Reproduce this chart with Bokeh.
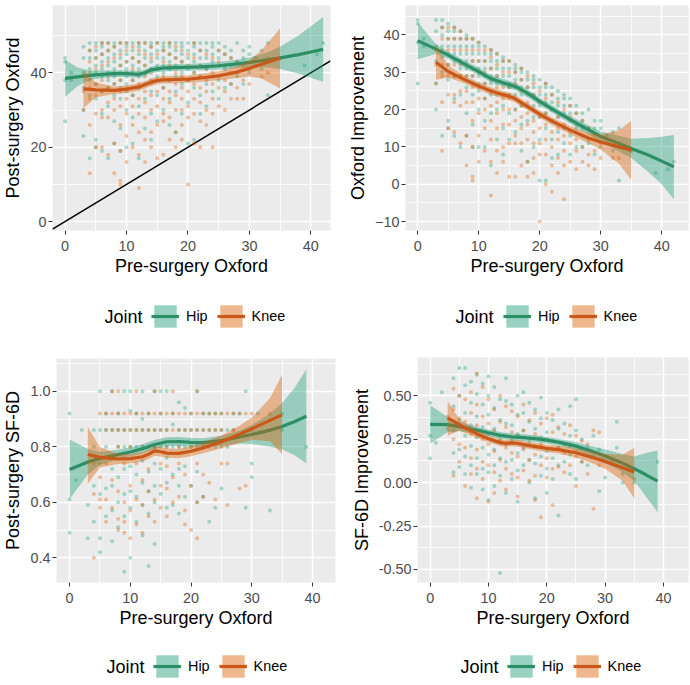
from bokeh.plotting import figure
from bokeh.layouts import column, row
from bokeh.models import (Range1d, FixedTicker, Legend, LegendItem, Label,
                          PrintfTickFormatter)
from bokeh.embed import file_html
from bokeh.resources import INLINE

# ---------------- data ----------------
X_TICKS = [0, 10, 20, 30, 40]
X_MINOR = [5, 15, 25, 35]
X_TITLE = "Pre-surgery Oxford"
GROUPS = ["Hip", "Knee"]
LEGEND_TITLE = "Joint"

# Panel 1 points: pre-surgery Oxford -> list of post-surgery Oxford
P1_HIP = {
    0: [27, 38, 43, 44], 1: [38, 40], 3: [23, 30, 36, 40, 44, 47],
    4: [17, 34, 38, 41, 44, 46, 48], 5: [20, 22, 33, 37, 40, 42, 44, 46, 48],
    6: [19, 29, 35, 39, 41, 43, 45, 47, 48], 7: [17, 31, 36, 38, 40, 42, 44, 46, 48],
    8: [21, 27, 34, 37, 39, 41, 43, 45, 47, 48], 9: [19, 25, 33, 36, 38, 40, 42, 44, 46, 48],
    10: [20, 30, 35, 37, 39, 41, 43, 45, 47, 48], 11: [21, 28, 34, 38, 40, 42, 44, 46, 48],
    12: [17, 31, 36, 39, 41, 43, 45, 47, 48], 13: [25, 33, 37, 40, 42, 44, 46, 48],
    14: [22, 29, 35, 38, 41, 43, 45, 47, 48], 15: [27, 34, 39, 41, 42, 44, 46, 48],
    16: [30, 36, 40, 42, 44, 46, 47, 48], 17: [26, 33, 38, 41, 43, 45, 47, 48],
    18: [24, 35, 39, 42, 44, 46, 48], 19: [29, 37, 40, 43, 45, 47, 48],
    20: [21, 32, 38, 41, 44, 46, 48], 21: [22, 36, 40, 43, 45, 47, 48],
    22: [29, 34, 39, 42, 44, 46, 48], 23: [31, 37, 41, 44, 46, 48],
    24: [35, 39, 43, 45, 47, 48], 25: [33, 38, 42, 44, 46, 48], 26: [36, 41, 45, 47],
    27: [37, 42, 44, 46], 28: [39, 43, 48], 29: [37, 44, 46], 30: [40, 45, 47],
    31: [42, 44], 32: [41, 46], 33: [34, 48], 35: [44], 39: [42], 41: [45], 42: [48],
}
P1_KNEE = {
    3: [30, 35, 39], 4: [13, 26, 33, 36, 40, 43, 46], 5: [20, 29, 34, 37, 41, 44, 47],
    6: [20, 28, 30, 35, 38, 42, 45, 48], 7: [18, 28, 32, 36, 39, 43, 46, 48],
    8: [13, 21, 30, 33, 37, 40, 44, 47], 9: [10, 11, 19, 26, 31, 35, 38, 42, 45, 48],
    10: [16, 23, 29, 33, 36, 40, 43, 46, 48], 11: [20, 26, 31, 34, 38, 41, 44, 47],
    12: [9, 18, 24, 29, 33, 37, 40, 43, 46, 48], 13: [16, 22, 28, 32, 35, 39, 42, 45, 48],
    14: [20, 24, 30, 34, 37, 40, 44, 47], 15: [17, 26, 31, 35, 38, 41, 45, 48],
    16: [18, 27, 29, 33, 36, 39, 43, 46], 17: [22, 28, 32, 35, 38, 42, 45, 48],
    18: [20, 24, 30, 34, 37, 40, 44, 47], 19: [22, 26, 30, 33, 36, 39, 43, 46],
    20: [10, 28, 31, 35, 38, 42, 45], 21: [21, 29, 33, 37, 40, 44, 48],
    22: [20, 27, 32, 36, 39, 42, 46], 23: [26, 30, 35, 38, 41, 45],
    24: [20, 29, 33, 37, 40, 44], 25: [31, 36, 39, 43, 46], 26: [30, 35, 38, 42, 45],
    27: [33, 37, 40, 44], 28: [33, 36, 40, 43], 29: [33, 38, 42], 30: [37, 41],
    32: [39], 33: [40, 44], 35: [44],
}

# Panel 3 points: pre-surgery Oxford -> post-surgery SF-6D
P3_HIP = {
    0: [0.92, 0.61, 0.49], 1: [0.68], 2: [0.86], 3: [0.59, 0.47],
    4: [0.86, 0.80, 0.66, 0.53], 5: [1.0, 0.86, 0.74, 0.63, 0.47, 0.42],
    6: [0.92, 0.86, 0.80, 0.65, 0.55], 7: [1.0, 0.86, 0.72, 0.66, 0.57, 0.46],
    8: [0.92, 0.86, 0.80, 0.69, 0.60, 0.51], 9: [1.0, 0.86, 0.80, 0.72, 0.63, 0.55, 0.35],
    10: [1.0, 0.93, 0.86, 0.80, 0.73, 0.64, 0.58, 0.40], 11: [0.92, 0.86, 0.80, 0.70, 0.62, 0.53],
    12: [1.0, 0.90, 0.86, 0.80, 0.75, 0.67, 0.59, 0.48], 13: [0.92, 0.86, 0.80, 0.71, 0.64, 0.56, 0.37],
    14: [1.0, 0.86, 0.80, 0.74, 0.66, 0.60, 0.45], 15: [1.0, 0.92, 0.86, 0.80, 0.72, 0.63],
    16: [1.0, 0.86, 0.80, 0.76, 0.67, 0.58], 17: [0.92, 0.88, 0.80, 0.70, 0.59],
    18: [0.96, 0.86, 0.80, 0.72, 0.66, 0.56], 19: [0.94, 0.86, 0.80, 0.73, 0.62],
    20: [0.92, 0.86, 0.80, 0.66], 21: [1.0, 0.86, 0.80, 0.71, 0.60], 22: [0.92, 0.86, 0.80, 0.62],
    23: [0.92, 0.86, 0.80, 0.53], 24: [0.92, 0.86, 0.80, 0.58], 25: [0.92, 0.86, 0.80, 0.65],
    26: [0.86, 0.80], 27: [0.92, 0.86], 28: [0.92], 29: [1.0, 0.58], 30: [0.86, 0.74, 0.69],
    31: [0.92], 33: [0.57], 35: [0.86, 0.92], 39: [0.80],
}
P3_KNEE = {
    4: [0.40, 0.63, 0.74], 5: [0.92, 0.58, 0.61, 0.69], 6: [0.92, 0.86, 0.74, 0.61, 0.53],
    7: [1.0, 0.92, 0.86, 0.68, 0.58], 8: [1.0, 0.92, 0.86, 0.80, 0.64, 0.54, 0.50],
    9: [0.92, 0.86, 0.74, 0.60, 0.53, 0.49], 10: [0.92, 0.86, 0.80, 0.66, 0.57, 0.47],
    11: [1.0, 0.92, 0.86, 0.74, 0.61, 0.52], 12: [0.92, 0.86, 0.80, 0.68, 0.59, 0.49],
    13: [0.92, 0.86, 0.72, 0.64, 0.55], 14: [1.0, 0.92, 0.86, 0.80, 0.61, 0.53],
    15: [0.92, 0.86, 0.74, 0.66, 0.58], 16: [0.92, 0.86, 0.80, 0.73, 0.65, 0.55],
    17: [1.0, 0.92, 0.86, 0.69, 0.60], 18: [0.92, 0.86, 0.80, 0.74, 0.62],
    19: [0.92, 0.86, 0.70, 0.57, 0.52], 20: [0.92, 0.86, 0.80, 0.66, 0.50],
    21: [1.0, 0.92, 0.86, 0.74, 0.60, 0.47], 22: [0.92, 0.86, 0.70, 0.62],
    23: [0.92, 0.86, 0.67], 24: [0.92, 0.86, 0.61], 25: [0.92, 0.86, 0.74],
    26: [0.92, 0.74, 0.59], 27: [0.92, 0.86], 28: [0.92, 0.65], 29: [0.92, 0.66],
    30: [0.92], 33: [0.92],
}

# Panel 4 points: pre-surgery Oxford -> SF-6D improvement
P4_HIP = {
    0: [0.46, 0.27, 0.14], 1: [0.23], 2: [0.52], 4: [0.60, 0.44, 0.30, 0.17, 0.06],
    5: [0.66, 0.50, 0.36, 0.19, 0.09], 6: [0.66, 0.56, 0.40, 0.27, 0.15, 0.05],
    7: [0.58, 0.46, 0.33, 0.21, 0.10, -0.03], 8: [0.62, 0.51, 0.38, 0.26, 0.14, 0.05],
    9: [0.57, 0.45, 0.32, 0.20, 0.08, -0.04], 10: [0.61, 0.50, 0.39, 0.28, 0.16, 0.06, -0.10],
    11: [0.55, 0.43, 0.31, 0.19, 0.10, -0.02], 12: [0.48, 0.36, 0.25, 0.14, 0.04, -0.52],
    13: [0.60, 0.47, 0.34, 0.22, 0.12, -0.06], 14: [0.45, 0.33, 0.24, 0.13, 0.02],
    15: [0.50, 0.39, 0.28, 0.17, 0.07, -0.11], 16: [0.52, 0.40, 0.30, 0.20, 0.10],
    17: [0.46, 0.35, 0.23, 0.13, 0.0], 18: [0.42, 0.31, 0.21, 0.11, -0.09],
    19: [0.49, 0.37, 0.26, 0.15, 0.04], 20: [0.40, 0.29, 0.18, 0.08, -0.06],
    21: [0.36, 0.24, 0.14, 0.02], 22: [0.42, 0.31, 0.20, 0.10, -0.19], 23: [0.34, 0.22, 0.12],
    24: [0.44, 0.27, 0.16, 0.05], 25: [0.48, 0.30, 0.18, 0.02], 26: [0.25, 0.12],
    27: [0.20, 0.10], 28: [0.27, 0.15], 29: [0.19, -0.05], 30: [0.12, 0.03],
    32: [0.35, 0.20], 33: [0.0, 0.05], 35: [0.0], 39: [0.12],
}
P4_KNEE = {
    3: [0.38, 0.31], 4: [0.54, 0.42, 0.25, 0.04], 5: [0.50, 0.37, 0.22, 0.12],
    6: [0.48, 0.35, 0.20, -0.02], 7: [0.52, 0.40, 0.28, 0.14, 0.05],
    8: [0.63, 0.45, 0.33, 0.19, 0.08, -0.09], 9: [0.55, 0.38, 0.25, 0.12, 0.02],
    10: [0.48, 0.34, 0.22, 0.10, -0.11], 11: [0.42, 0.30, 0.18, 0.06, -0.06],
    12: [0.50, 0.35, 0.24, 0.13, 0.01], 13: [0.44, 0.32, 0.20, 0.08, -0.04],
    14: [0.41, 0.29, 0.17, 0.05], 15: [0.38, 0.27, 0.15, 0.03, -0.08],
    16: [0.45, 0.30, 0.19, 0.07], 17: [0.36, 0.25, 0.13, 0.01],
    18: [0.40, 0.28, 0.16, 0.04, -0.10], 19: [0.34, 0.22, 0.10, -0.20],
    20: [0.37, 0.25, 0.14, 0.03], 21: [0.39, 0.29, 0.19, 0.08, -0.13],
    22: [0.32, 0.20, 0.09], 23: [0.28, 0.17, 0.06], 24: [0.33, 0.21, 0.10],
    25: [0.27, 0.15, -0.02], 26: [0.24, 0.12], 27: [0.22, 0.05], 28: [0.30, -0.15],
    29: [0.29, 0.10], 31: [0.12], 35: [0.02],
}

# Smoothed fits (line, lower, upper)
S1_HIP_X = [0, 2, 4, 6, 8, 10, 12, 13, 14, 16, 18, 20, 22, 25, 28, 30, 33, 35, 38, 40, 42]
S1_HIP_Y = [38.5, 38.9, 39.3, 39.6, 39.8, 39.8, 39.6, 40.0, 40.8, 41.3, 41.4, 41.5, 41.6, 41.9, 42.4, 42.8, 43.5, 44.0, 44.9, 45.6, 46.3]
S1_HIP_LO = [33.5, 36.4, 38.0, 38.6, 38.9, 38.9, 38.7, 39.1, 39.9, 40.4, 40.5, 40.6, 40.7, 40.9, 41.3, 41.5, 41.5, 41.0, 39.8, 38.7, 37.6]
S1_HIP_HI = [43.5, 41.4, 40.6, 40.6, 40.7, 40.7, 40.5, 40.9, 41.7, 42.2, 42.3, 42.4, 42.5, 42.9, 43.5, 44.1, 45.5, 47.0, 50.0, 52.5, 55.0]
S1_KNEE_X = [3, 5, 8, 10, 12, 13, 14, 15, 16, 18, 20, 22, 25, 28, 30, 32, 35]
S1_KNEE_Y = [35.7, 35.4, 35.3, 35.6, 36.2, 36.8, 37.5, 37.9, 38.1, 38.2, 38.3, 38.6, 39.2, 40.2, 41.2, 42.3, 44.0]
S1_KNEE_LO = [30.5, 33.4, 34.3, 34.6, 35.2, 35.8, 36.5, 36.9, 37.1, 37.2, 37.3, 37.5, 38.0, 38.6, 39.0, 38.5, 35.8]
S1_KNEE_HI = [40.7, 37.4, 36.3, 36.6, 37.2, 37.8, 38.5, 38.9, 39.1, 39.2, 39.3, 39.7, 40.4, 41.8, 43.4, 46.1, 52.0]

S2_HIP_X = [0, 3, 5, 8, 10, 12, 14, 16, 18, 20, 22, 25, 28, 30, 33, 35, 38, 40, 42]
S2_HIP_Y = [38.5, 36.2, 34.6, 31.9, 30.2, 28.3, 27.2, 26.2, 24.4, 22.2, 20.2, 17.3, 14.6, 12.8, 10.9, 9.6, 7.7, 6.2, 4.7]
S2_HIP_LO = [33.5, 34.9, 33.6, 30.9, 29.2, 27.3, 26.2, 25.2, 23.4, 21.2, 19.2, 16.3, 13.4, 11.5, 8.8, 7.0, 3.0, 0.0, -4.0]
S2_HIP_HI = [43.5, 37.5, 35.6, 32.9, 31.2, 29.3, 28.2, 27.2, 25.4, 23.2, 21.2, 18.3, 15.8, 14.1, 13.0, 12.2, 12.4, 12.7, 13.2]
S2_KNEE_X = [3, 5, 8, 10, 12, 14, 15, 16, 18, 20, 22, 25, 28, 30, 33, 35]
S2_KNEE_Y = [32.7, 30.2, 27.8, 26.3, 25.0, 24.0, 23.6, 22.9, 20.8, 18.8, 16.9, 14.5, 12.4, 11.3, 10.0, 9.1]
S2_KNEE_LO = [28.0, 28.6, 26.8, 25.3, 24.0, 23.0, 22.6, 21.9, 19.8, 17.8, 15.9, 13.4, 11.0, 9.3, 5.5, 1.2]
S2_KNEE_HI = [37.3, 31.8, 28.8, 27.3, 26.0, 25.0, 24.6, 23.9, 21.8, 19.8, 17.9, 15.6, 13.8, 13.3, 14.5, 17.0]

S3_HIP_X = [0, 3, 5, 8, 10, 12, 14, 16, 18, 20, 22, 25, 28, 30, 33, 35, 37, 39]
S3_HIP_Y = [0.718, 0.745, 0.758, 0.772, 0.781, 0.793, 0.808, 0.818, 0.819, 0.816, 0.815, 0.822, 0.835, 0.844, 0.860, 0.873, 0.890, 0.910]
S3_HIP_LO = [0.612, 0.700, 0.735, 0.755, 0.765, 0.777, 0.792, 0.802, 0.803, 0.800, 0.799, 0.804, 0.812, 0.810, 0.800, 0.790, 0.770, 0.740]
S3_HIP_HI = [0.826, 0.792, 0.781, 0.789, 0.797, 0.809, 0.824, 0.834, 0.835, 0.832, 0.831, 0.840, 0.858, 0.878, 0.920, 0.958, 1.010, 1.080]
S3_KNEE_X = [3, 5, 8, 10, 12, 13, 14, 15, 16, 18, 20, 22, 25, 28, 30, 33, 35]
S3_KNEE_Y = [0.772, 0.762, 0.756, 0.757, 0.764, 0.773, 0.785, 0.782, 0.777, 0.776, 0.784, 0.796, 0.818, 0.845, 0.865, 0.895, 0.915]
S3_KNEE_LO = [0.667, 0.725, 0.738, 0.740, 0.747, 0.756, 0.768, 0.765, 0.760, 0.759, 0.766, 0.777, 0.795, 0.814, 0.825, 0.820, 0.773]
S3_KNEE_HI = [0.871, 0.799, 0.774, 0.774, 0.781, 0.790, 0.802, 0.799, 0.794, 0.793, 0.802, 0.815, 0.841, 0.876, 0.905, 0.975, 1.060]

S4_HIP_X = [0, 3, 5, 8, 10, 12, 14, 16, 18, 20, 22, 25, 28, 30, 33, 35, 37, 39]
S4_HIP_Y = [0.335, 0.334, 0.322, 0.302, 0.287, 0.272, 0.263, 0.259, 0.253, 0.244, 0.233, 0.210, 0.177, 0.153, 0.112, 0.080, 0.045, 0.008]
S4_HIP_LO = [0.225, 0.290, 0.295, 0.282, 0.268, 0.253, 0.244, 0.240, 0.234, 0.225, 0.214, 0.188, 0.148, 0.115, 0.060, 0.010, -0.080, -0.170]
S4_HIP_HI = [0.445, 0.378, 0.349, 0.322, 0.306, 0.291, 0.282, 0.278, 0.272, 0.263, 0.252, 0.232, 0.206, 0.191, 0.164, 0.150, 0.170, 0.185]
S4_KNEE_X = [3, 5, 8, 10, 12, 13, 14, 15, 17, 20, 22, 25, 28, 30, 33, 35]
S4_KNEE_Y = [0.373, 0.333, 0.280, 0.252, 0.230, 0.226, 0.229, 0.226, 0.213, 0.197, 0.190, 0.172, 0.143, 0.122, 0.086, 0.061]
S4_KNEE_LO = [0.270, 0.300, 0.258, 0.232, 0.210, 0.206, 0.209, 0.206, 0.193, 0.176, 0.168, 0.146, 0.108, 0.080, 0.010, -0.092]
S4_KNEE_HI = [0.468, 0.366, 0.302, 0.272, 0.250, 0.246, 0.249, 0.246, 0.233, 0.218, 0.212, 0.198, 0.178, 0.164, 0.160, 0.200]

Y_TITLES = ["Post-surgery Oxford", "Oxford Improvement", "Post-surgery SF-6D", "SF-6D Improvement"]
Y1_TICKS, Y1_MINOR = [0, 20, 40], [10, 30, 50]
Y2_TICKS, Y2_MINOR = [-10, 0, 10, 20, 30, 40], [-5, 5, 15, 25, 35, 45]
Y3_TICKS, Y3_MINOR = [0.4, 0.6, 0.8, 1.0], [0.5, 0.7, 0.9, 1.1]
Y4_TICKS, Y4_MINOR = [-0.5, -0.25, 0.0, 0.25, 0.5], [-0.375, -0.125, 0.125, 0.375, 0.625]

# ---------------- styling ----------------
HIP_C = "#1B9E77"
KNEE_C = "#D95F02"
HIP_LINE = "#2E8F66"
KNEE_LINE = "#C9581A"
FONT = "Liberation Sans"


def flatten(d):
    xs = [x for x, ys in d.items() for _ in ys]
    ys = [y for _, yl in d.items() for y in yl]
    return xs, ys


def panel(w, h, xr, yr, yt, ym, ytitle, fmt, mb):
    p = figure(width=w, height=h, x_range=Range1d(*xr), y_range=Range1d(*yr),
               output_backend="svg", toolbar_location=None,
               min_border_left=mb[0], min_border_right=mb[1],
               min_border_top=mb[2], min_border_bottom=mb[3])
    p.background_fill_color = "#EBEBEB"
    p.border_fill_color = "white"
    p.outline_line_color = None
    p.xaxis.ticker = FixedTicker(ticks=X_TICKS, minor_ticks=X_MINOR)
    p.yaxis.ticker = FixedTicker(ticks=yt, minor_ticks=ym)
    if fmt:
        p.yaxis.formatter = PrintfTickFormatter(format=fmt)
    p.grid.grid_line_color = "white"
    p.grid.grid_line_width = 1.6
    p.grid.minor_grid_line_color = "white"
    p.grid.minor_grid_line_width = 0.8
    p.axis.axis_line_color = None
    p.axis.major_tick_line_color = "#333333"
    p.axis.major_tick_out = 4
    p.axis.major_tick_in = 0
    p.axis.minor_tick_line_color = None
    p.axis.major_label_text_color = "#4D4D4D"
    p.axis.major_label_text_font = FONT
    p.axis.major_label_text_font_size = "14.4px"
    p.axis.axis_label_text_font = FONT
    p.axis.axis_label_text_font_size = "18px"
    p.axis.axis_label_text_font_style = "normal"
    p.axis.axis_label_text_color = "black"
    p.xaxis.major_label_standoff = 6
    p.xaxis.axis_label_standoff = 2
    p.yaxis.major_label_standoff = 2
    p.yaxis.axis_label_standoff = 4
    p.xaxis.axis_label = X_TITLE
    p.yaxis.axis_label = ytitle
    return p


def add_layers(p, hip_pts, knee_pts, hs, ks):
    hx, hy = hip_pts
    kx, ky = knee_pts
    p.scatter(hx, hy, size=4, fill_color=HIP_C, fill_alpha=0.35, line_color=None)
    p.scatter(kx, ky, size=4, fill_color=KNEE_C, fill_alpha=0.35, line_color=None)
    p.varea(x=hs[0], y1=hs[2], y2=hs[3], fill_color=HIP_C, fill_alpha=0.4)
    p.line(hs[0], hs[1], line_color=HIP_LINE, line_width=3.2)
    p.varea(x=ks[0], y1=ks[2], y2=ks[3], fill_color=KNEE_C, fill_alpha=0.4)
    p.line(ks[0], ks[1], line_color=KNEE_LINE, line_width=3.2)


def legend_fig(w, h, hs, ks, key_x, joint_x, cy):
    # a strip under each panel; its ranges lie far away from the data,
    # so the series renderers here only feed the legend keys
    f = figure(width=w, height=h, x_range=Range1d(1000, 1001), y_range=Range1d(1000, 1001),
               output_backend="svg", toolbar_location=None,
               x_axis_location=None, y_axis_location=None,
               min_border=0, min_border_left=0, min_border_right=0,
               min_border_top=0, min_border_bottom=0)
    f.grid.visible = False
    f.outline_line_color = None
    f.background_fill_color = "white"
    f.border_fill_color = "white"
    hb = f.varea(x=hs[0], y1=hs[2], y2=hs[3], fill_color=HIP_C, fill_alpha=0.45)
    hl = f.line(hs[0], hs[1], line_color=HIP_LINE, line_width=3.2)
    kb = f.varea(x=ks[0], y1=ks[2], y2=ks[3], fill_color=KNEE_C, fill_alpha=0.45)
    kl = f.line(ks[0], ks[1], line_color=KNEE_LINE, line_width=3.2)
    leg = Legend(items=[LegendItem(label=GROUPS[0], renderers=[hb, hl]),
                        LegendItem(label=GROUPS[1], renderers=[kb, kl])],
                 orientation="horizontal", location=(key_x, cy - 14),
                 margin=0, padding=0, spacing=9, label_standoff=7, glyph_width=28,
                 glyph_height=28, label_text_font=FONT, label_height=28,
                 label_text_font_size="14.4px", label_text_color="black",
                 border_line_color=None, background_fill_alpha=0)
    f.add_layout(leg)
    f.add_layout(Label(x=joint_x, y=cy, x_units="screen", y_units="screen",
                       text=LEGEND_TITLE, text_font=FONT, text_font_size="18px",
                       text_baseline="middle", text_color="black"))
    return f


S1H = (S1_HIP_X, S1_HIP_Y, S1_HIP_LO, S1_HIP_HI)
S1K = (S1_KNEE_X, S1_KNEE_Y, S1_KNEE_LO, S1_KNEE_HI)
S2H = (S2_HIP_X, S2_HIP_Y, S2_HIP_LO, S2_HIP_HI)
S2K = (S2_KNEE_X, S2_KNEE_Y, S2_KNEE_LO, S2_KNEE_HI)
S3H = (S3_HIP_X, S3_HIP_Y, S3_HIP_LO, S3_HIP_HI)
S3K = (S3_KNEE_X, S3_KNEE_Y, S3_KNEE_LO, S3_KNEE_HI)
S4H = (S4_HIP_X, S4_HIP_Y, S4_HIP_LO, S4_HIP_HI)
S4K = (S4_KNEE_X, S4_KNEE_Y, S4_KNEE_LO, S4_KNEE_HI)

# panel 1
p1 = panel(345, 284, (-2.05, 43.2), (-2.4, 58.1), Y1_TICKS, Y1_MINOR, Y_TITLES[0], None,
           (48, 15, 5, 54))
p1.line([-2.05, 43.2], [-2.05, 43.2], line_color="black", line_width=1.5)
add_layers(p1, flatten(P1_HIP), flatten(P1_KNEE), S1H, S1K)
l1 = legend_fig(345, 61, S1H, S1K, 99, 52, 29)

# panel 2 (improvement = post - pre)
h2 = ([x for x, ys in P1_HIP.items() for _ in ys], [y - x for x, ys in P1_HIP.items() for y in ys])
k2 = ([x for x, ys in P1_KNEE.items() for _ in ys], [y - x for x, ys in P1_KNEE.items() for y in ys])
p2 = panel(345, 284, (-2.0, 44.4), (-12.4, 47.9), Y2_TICKS, Y2_MINOR, Y_TITLES[1], None,
           (59, 2, 5, 54))
add_layers(p2, h2, k2, S2H, S2K)
l2 = legend_fig(345, 61, S2H, S2K, 98, 50, 29)

# panel 3
p3 = panel(345, 291, (-2.16, 43.8), (0.311, 1.118), Y3_TICKS, Y3_MINOR, Y_TITLES[2], "%.1f",
           (52, 10, 13, 54))
add_layers(p3, flatten(P3_HIP), flatten(P3_KNEE), S3H, S3K)
l3 = legend_fig(345, 49, S3H, S3K, 97, 50, 19)

# panel 4
p4 = panel(345, 291, (-2.17, 44.3), (-0.575, 0.72), Y4_TICKS, Y4_MINOR, Y_TITLES[3], "%.2f",
           (72, 2, 12, 54))
add_layers(p4, flatten(P4_HIP), flatten(P4_KNEE), S4H, S4K)
l4 = legend_fig(345, 49, S4H, S4K, 90, 43, 19)

layout = column(row(column(p1, l1), column(p2, l2)),
                row(column(p3, l3), column(p4, l4)))
open("out.html", "w").write(file_html(layout, INLINE))
